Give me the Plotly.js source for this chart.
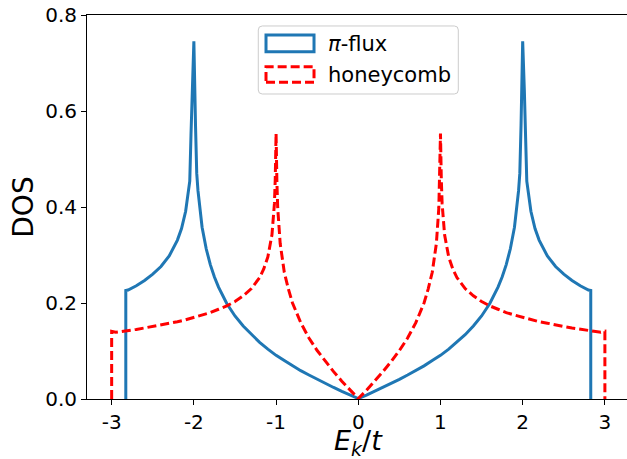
<!DOCTYPE html>
<html>
<head>
<meta charset="utf-8">
<script src="https://cdn.plot.ly/plotly-3.0.1.min.js"></script>
<style>
html,body{margin:0;padding:0;background:#fff;}
#chart{width:627px;height:459px;}
</style>
</head>
<body>
<div id="chart"></div>
<script>
// ---- data ----
var piFluxE = [-2.828,-2.828,-2.8,-2.7,-2.6,-2.5,-2.4,-2.3,-2.2,-2.15,-2.1,-2.05,-2.035,-2.02,-2.0,-1.98,-1.965,-1.95,-1.9,-1.85,-1.8,-1.75,-1.7,-1.6,-1.5,-1.4,-1.3,-1.2,-1.1,-1.0,-0.9,-0.8,-0.7,-0.6,-0.5,-0.4,-0.3,-0.2,-0.1,0,
               0.1,0.2,0.3,0.4,0.5,0.6,0.7,0.8,0.9,1.0,1.1,1.2,1.3,1.4,1.5,1.6,1.7,1.75,1.8,1.85,1.9,1.95,1.965,1.98,2.0,2.02,2.035,2.05,2.1,2.15,2.2,2.3,2.4,2.5,2.6,2.7,2.8,2.828,2.828];
var piFluxDOS = [0,0.226,0.227,0.236,0.247,0.260,0.276,0.298,0.331,0.355,0.391,0.454,0.55,0.644,0.745,0.57,0.47,0.434,0.358,0.313,0.280,0.254,0.233,0.199,0.173,0.152,0.134,0.118,0.104,0.091,0.080,0.069,0.059,0.050,0.041,0.032,0.024,0.016,0.008,0.001,
                 0.008,0.016,0.024,0.032,0.041,0.050,0.059,0.069,0.080,0.091,0.104,0.118,0.134,0.152,0.173,0.199,0.233,0.254,0.280,0.313,0.358,0.434,0.47,0.57,0.745,0.644,0.55,0.454,0.391,0.355,0.331,0.298,0.276,0.260,0.247,0.236,0.227,0.226,0];

var honeyE = [-3.0,-3.0,-2.95,-2.9,-2.8,-2.7,-2.6,-2.5,-2.4,-2.3,-2.2,-2.1,-2.0,-1.9,-1.8,-1.7,-1.6,-1.5,-1.4,-1.3,-1.2,-1.15,-1.1,-1.05,-1.02,-1.01,-1.0,-0.99,-0.98,-0.95,-0.9,-0.85,-0.8,-0.7,-0.6,-0.5,-0.4,-0.3,-0.2,-0.1,0,
              0.1,0.2,0.3,0.4,0.5,0.6,0.7,0.8,0.85,0.9,0.95,0.98,0.99,1.0,1.01,1.02,1.05,1.1,1.15,1.2,1.3,1.4,1.5,1.6,1.7,1.8,1.9,2.0,2.1,2.2,2.3,2.4,2.5,2.6,2.7,2.8,2.9,2.95,3.0,3.0];
var honeyDOS = [0,0.141,0.139,0.140,0.143,0.145,0.148,0.151,0.154,0.158,0.161,0.165,0.170,0.175,0.180,0.187,0.194,0.203,0.215,0.230,0.253,0.271,0.296,0.342,0.407,0.458,0.553,0.453,0.398,0.324,0.264,0.229,0.200,0.159,0.127,0.101,0.078,0.057,0.037,0.018,0.001,
                0.018,0.037,0.057,0.078,0.101,0.127,0.159,0.200,0.229,0.264,0.324,0.398,0.453,0.553,0.458,0.407,0.342,0.296,0.271,0.253,0.230,0.215,0.203,0.194,0.187,0.180,0.175,0.170,0.165,0.161,0.158,0.154,0.151,0.148,0.145,0.143,0.140,0.139,0.141,0];

var seriesNames = ['<i>π</i>-flux', 'honeycomb'];
var xTitle = '<i>E</i><sub><i>k</i></sub>/<i>t</i>';
var yTitle = 'DOS';
var xTickVals = [-3,-2,-1,0,1,2,3];
var xTickText = ['-3','-2','-1','0','1','2','3'];
var yTickVals = [0,0.2,0.4,0.6,0.8];
var yTickText = ['0.0','0.2','0.4','0.6','0.8'];

// ---- styling ----
var BLUE = '#1f77b4', RED = '#ff0000';
var FONT = 'DejaVu Sans, Liberation Sans, sans-serif';
var LW = 3;

var traces = [
  {x: piFluxE, y: piFluxDOS, type: 'scatter', mode: 'lines', name: seriesNames[0],
   line: {color: BLUE, width: LW}, showlegend: false},
  {x: honeyE, y: honeyDOS, type: 'scatter', mode: 'lines', name: seriesNames[1],
   line: {color: RED, width: LW, dash: '9px,4px'}, showlegend: false}
];

// manual legend (matplotlib-style rectangle handles)
var L = {x0: 0.3172, x1: 0.6876, y0: 0.7943, y1: 0.9714, rx: 0.0074, ry: 0.0104};
var boxPath = 'M' + (L.x0+L.rx) + ',' + L.y1 +
  ' L' + (L.x1-L.rx) + ',' + L.y1 + ' Q' + L.x1 + ',' + L.y1 + ' ' + L.x1 + ',' + (L.y1-L.ry) +
  ' L' + L.x1 + ',' + (L.y0+L.ry) + ' Q' + L.x1 + ',' + L.y0 + ' ' + (L.x1-L.rx) + ',' + L.y0 +
  ' L' + (L.x0+L.rx) + ',' + L.y0 + ' Q' + L.x0 + ',' + L.y0 + ' ' + L.x0 + ',' + (L.y0+L.ry) +
  ' L' + L.x0 + ',' + (L.y1-L.ry) + ' Q' + L.x0 + ',' + L.y1 + ' ' + (L.x0+L.rx) + ',' + L.y1 + ' Z';

var shapes = [
  {type: 'path', xref: 'paper', yref: 'paper', path: boxPath,
   fillcolor: 'rgba(255,255,255,0.8)', line: {color: '#cccccc', width: 1}, layer: 'above'},
  {type: 'rect', xref: 'paper', yref: 'paper', x0: 0.3315, x1: 0.4204, y0: 0.9044, y1: 0.9479,
   line: {color: BLUE, width: LW}, fillcolor: 'rgba(0,0,0,0)', layer: 'above'},
  {type: 'rect', xref: 'paper', yref: 'paper', x0: 0.3315, x1: 0.4204, y0: 0.8247, y1: 0.8654,
   line: {color: RED, width: LW, dash: '9px,4px'}, fillcolor: 'rgba(0,0,0,0)', layer: 'above'}
];

var annotations = [
  {xref: 'paper', yref: 'paper', x: 0.4435, y: 0.9245, xanchor: 'left', yanchor: 'middle',
   text: seriesNames[0], showarrow: false, font: {family: FONT, size: 21, color: '#000'}},
  {xref: 'paper', yref: 'paper', x: 0.4435, y: 0.8438, xanchor: 'left', yanchor: 'middle',
   text: seriesNames[1], showarrow: false, font: {family: FONT, size: 21, color: '#000'}},
  // x-axis title
  {xref: 'paper', yref: 'paper', x: 0.5024, y: -0.114, xanchor: 'center', yanchor: 'middle',
   text: xTitle, showarrow: false, font: {family: FONT, size: 27, color: '#000'}, borderpad: 0}
];

var layout = {
  width: 627, height: 459,
  margin: {l: 87, r: 0, t: 15, b: 60, pad: 0},
  paper_bgcolor: '#fff', plot_bgcolor: '#fff',
  font: {family: FONT, color: '#000'},
  xaxis: {
    range: [-3.30, 3.269], showgrid: false, zeroline: false,
    showline: true, linecolor: '#000', linewidth: 1, mirror: true,
    ticks: 'outside', ticklen: 5, tickwidth: 1, tickcolor: '#000',
    tickmode: 'array', tickvals: xTickVals, ticktext: xTickText,
    tickfont: {family: FONT, size: 20, color: '#000'},
    automargin: false
  },
  yaxis: {
    range: [0, 0.8], showgrid: false, zeroline: false,
    showline: true, linecolor: '#000', linewidth: 1, mirror: false,
    ticks: 'outside', ticklen: 5, tickwidth: 1, tickcolor: '#000',
    tickmode: 'array', tickvals: yTickVals, ticktext: yTickText,
    tickfont: {family: FONT, size: 20, color: '#000'},
    title: {text: yTitle, font: {family: FONT, size: 28, color: '#000'}, standoff: 3},
    automargin: false
  },
  shapes: shapes,
  annotations: annotations,
  showlegend: false
};

Plotly.newPlot('chart', traces, layout, {staticPlot: true, displayModeBar: false});
</script>
</body>
</html>
